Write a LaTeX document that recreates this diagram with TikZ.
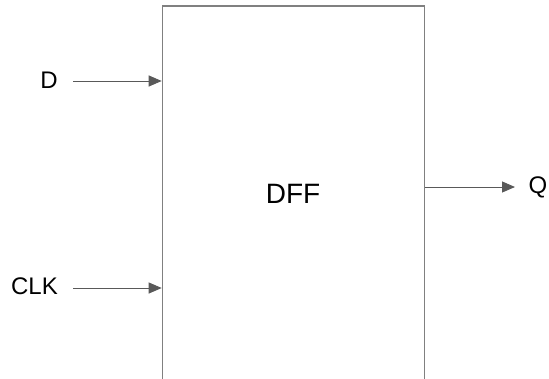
\documentclass[tikz,border=0pt]{standalone}
\usepackage{fontspec}
\setmainfont{Liberation Sans}
\usetikzlibrary{arrows.meta}

\begin{document}
\begin{tikzpicture}[x=1pt,y=-1pt]
    \tikzset{block/.style = {shape=rectangle, draw=black!50, line width=1.6pt, minimum width=262pt, minimum height=420pt, inner sep=0pt}}
    \tikzset{pin/.style = {font=\fontsize{24}{28}\selectfont, inner sep=0pt, anchor=base}}
    \tikzset{wire/.style = {draw=black!65, line width=1pt, -{Triangle[length=13pt,width=11pt]}}}

    \useasboundingbox (0,0) rectangle (549,378);
    \clip (0,0) rectangle (549,378);

    % vertices
    \node[block] (dff) at (293.5,216) {};
    \node[pin, font=\fontsize{28}{32}\selectfont] (lbl) at (293,203) {DFF};
    \node[pin] (d) at (49,88.3) {D};
    \node[pin] (clk) at (34.5,294.5) {CLK};
    \node[pin] (q) at (538,193) {Q};
    \coordinate (din) at (73,81);
    \coordinate (clkin) at (73,288);
    \coordinate (qend) at (515,187);

    % edges
    \draw[wire] (din) -- (din -| dff.west);
    \draw[wire] (clkin) -- (clkin -| dff.west);
    \draw[wire] (qend -| dff.east) -- (qend);
\end{tikzpicture}
\end{document}
